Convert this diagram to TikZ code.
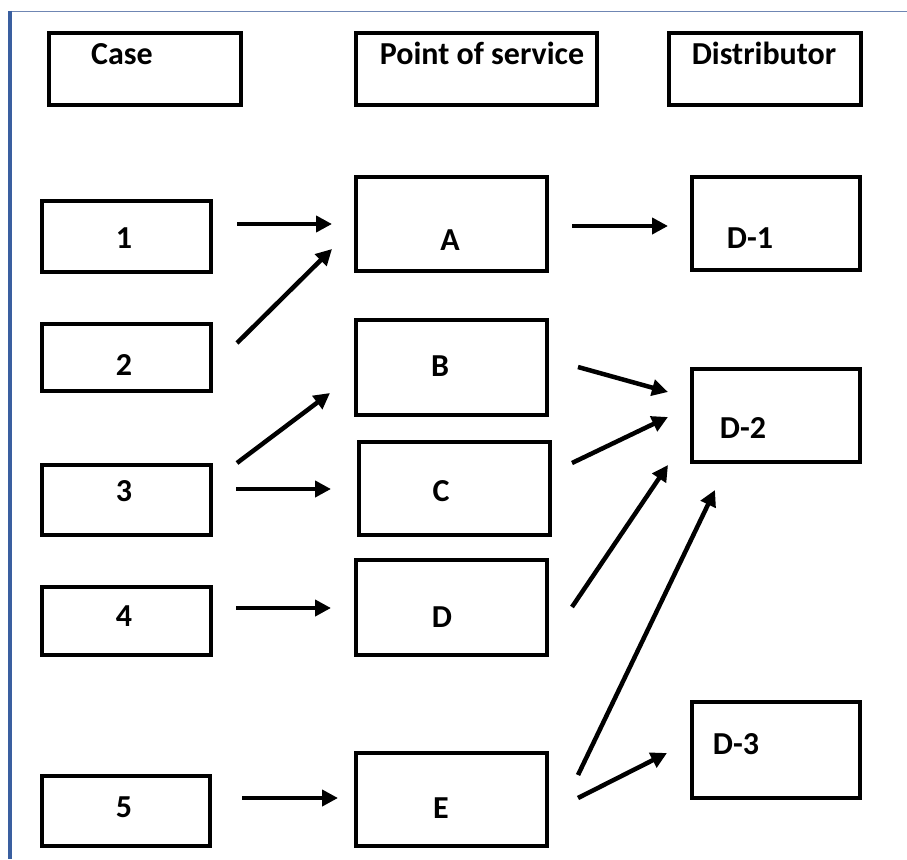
\documentclass[tikz,border=0pt]{standalone}
\usepackage{fontspec}
\setmainfont{Carlito}
\usetikzlibrary{arrows.meta}
\definecolor{frameblue}{HTML}{3A5FA0}
\definecolor{toplinec}{HTML}{6F86B3}
\tikzset{
  boxnode/.style={draw=black, line width=4pt, fill=white, inner sep=0pt, rectangle},
  lbl/.style={font=\fontsize{32}{32}\selectfont\bfseries, anchor=base, inner sep=0pt},
  arr/.style={line width=4.5pt, -{Triangle[length=16pt,width=16pt]}}
}
\begin{document}
\begin{tikzpicture}[x=1pt,y=-1pt]
\useasboundingbox (0,0) rectangle (907,859);
\fill[white] (0,0) rectangle (907,859);
% frame lines
\draw[toplinec, line width=1.5pt] (8,11.5) -- (907,11.5);
\draw[frameblue, line width=4pt] (10,11) -- (10,859);

% header boxes
\node[boxnode, minimum width=192pt, minimum height=72pt] (hcase) at (145,69) {};
\node[boxnode, minimum width=241pt, minimum height=72pt] (hpos) at (476,69) {};
\node[boxnode, minimum width=192pt, minimum height=72pt] (hdist) at (764.5,69) {};
\node[lbl] (tcase) at (122,64) {Case};
\node[lbl] (tpos) at (482,64) {Point of service};
\node[lbl] (tdist) at (764,64) {Distributor};

% case boxes
\node[boxnode, minimum width=169pt, minimum height=71pt] (b1) at (126.5,236.5) {};
\node[boxnode, minimum width=169pt, minimum height=67pt] (b2) at (126.5,357.5) {};
\node[boxnode, minimum width=169pt, minimum height=70pt] (b3) at (126.5,500) {};
\node[boxnode, minimum width=169pt, minimum height=68pt] (b4) at (126.5,621) {};
\node[boxnode, minimum width=168pt, minimum height=70pt] (b5) at (126,811) {};
\node[lbl] (t1) at (124,248) {1};
\node[lbl] (t2) at (124,375) {2};
\node[lbl] (t3) at (124,501) {3};
\node[lbl] (t4) at (124,626) {4};
\node[lbl] (t5) at (124,817) {5};

% point of service boxes
\node[boxnode, minimum width=191pt, minimum height=94pt] (pA) at (451.5,224) {};
\node[boxnode, minimum width=191pt, minimum height=95pt] (pB) at (451.5,367.5) {};
\node[boxnode, minimum width=191pt, minimum height=93pt] (pC) at (454.5,488.5) {};
\node[boxnode, minimum width=191pt, minimum height=95pt] (pD) at (451.5,607.5) {};
\node[boxnode, minimum width=191pt, minimum height=93pt] (pE) at (451.5,799.5) {};
\node[lbl] (tA) at (450,250) {A};
\node[lbl] (tB) at (440,376) {B};
\node[lbl] (tC) at (441,501) {C};
\node[lbl] (tD) at (442,627) {D};
\node[lbl] (tE) at (441,818) {E};

% distributor boxes
\node[boxnode, minimum width=168pt, minimum height=93pt] (d1) at (776,223.5) {};
\node[boxnode, minimum width=168pt, minimum height=93pt] (d2) at (776,415.5) {};
\node[boxnode, minimum width=168pt, minimum height=96pt] (d3) at (776,750) {};
\node[lbl] (td1) at (750,248) {D-1};
\node[lbl] (td2) at (743,438) {D-2};
\node[lbl] (td3) at (736,754) {D-3};

% connector end points
\coordinate (s1A) at (237,224);  \coordinate (e1A) at (332,224);
\coordinate (s2A) at (237,343);  \coordinate (e2A) at (332,249);
\coordinate (s3B) at (237,463);  \coordinate (e3B) at (330,393);
\coordinate (s3C) at (236,489);  \coordinate (e3C) at (331,489);
\coordinate (s4D) at (236,608);  \coordinate (e4D) at (331,608);
\coordinate (s5E) at (242,798);  \coordinate (e5E) at (338,798);
\coordinate (sAd1) at (572,226); \coordinate (eAd1) at (668,226);
\coordinate (sBd2) at (578,367); \coordinate (eBd2) at (668,392);
\coordinate (sCd2) at (572,463); \coordinate (eCd2) at (668,417);
\coordinate (sDd2) at (572,607); \coordinate (eDd2) at (668,465);
\coordinate (sEd2) at (578,775); \coordinate (eEd2) at (715,490);
\coordinate (sEd3) at (578,798); \coordinate (eEd3) at (667,753);

% connectors
\draw[arr] (s1A) -- (e1A);
\draw[arr] (s2A) -- (e2A);
\draw[arr] (s3B) -- (e3B);
\draw[arr] (s3C) -- (e3C);
\draw[arr] (s4D) -- (e4D);
\draw[arr] (s5E) -- (e5E);
\draw[arr] (sAd1) -- (eAd1);
\draw[arr] (sBd2) -- (eBd2);
\draw[arr] (sCd2) -- (eCd2);
\draw[arr] (sDd2) -- (eDd2);
\draw[arr] (sEd2) -- (eEd2);
\draw[arr] (sEd3) -- (eEd3);
\end{tikzpicture}
\end{document}
